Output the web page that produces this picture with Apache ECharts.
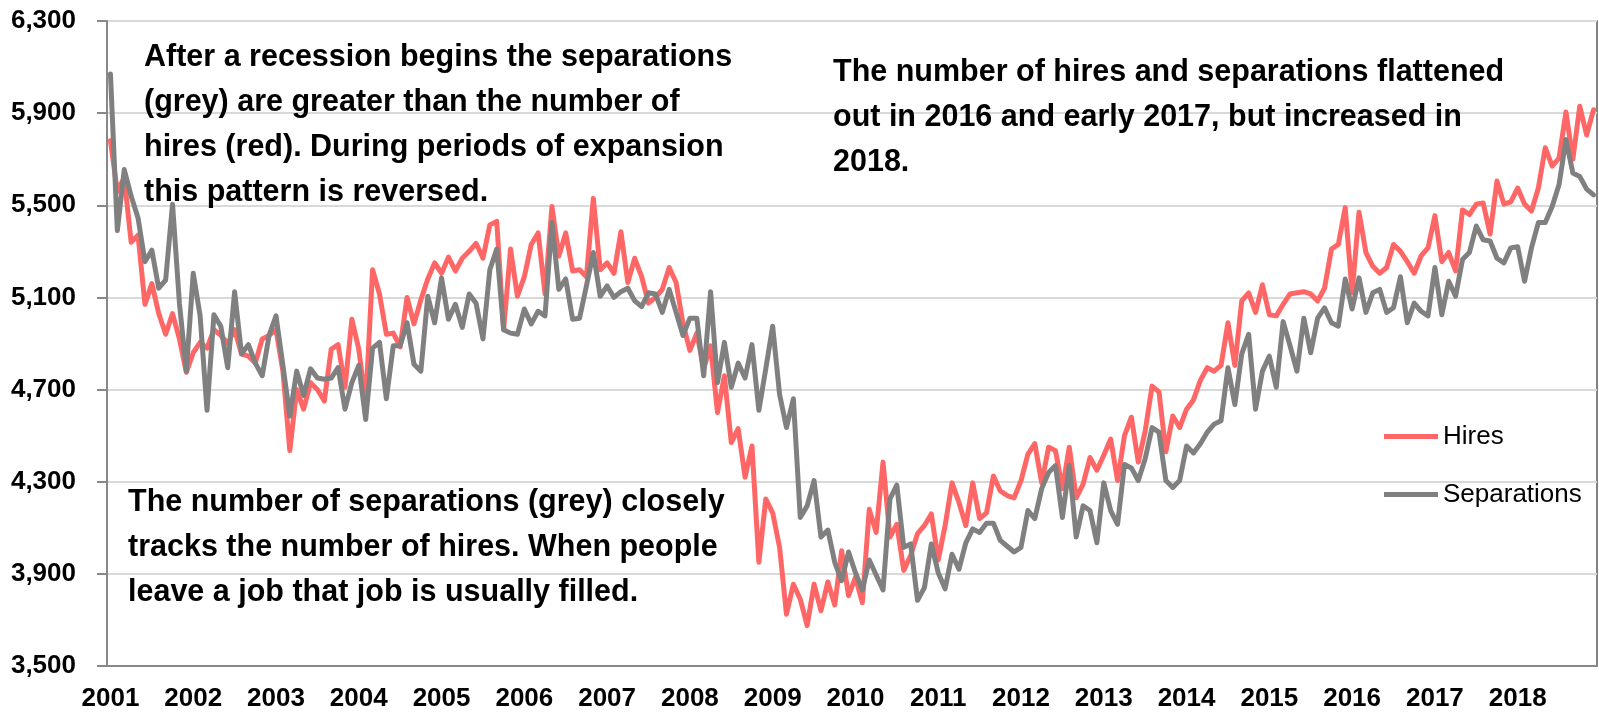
<!DOCTYPE html>
<html>
<head>
<meta charset="utf-8">
<title>Hires and Separations</title>
<script src="https://cdn.jsdelivr.net/npm/echarts@6.0.0/dist/echarts.min.js"></script>
<style>
    html, body { margin: 0; padding: 0; background: #fff; }
    #chart { width: 1599px; height: 712px; }
</style>
</head>
<body>
<div id="chart"></div>
<script>
'use strict';

// one row per year, Jan..Dec
var years = [2001, 2002, 2003, 2004, 2005, 2006, 2007, 2008, 2009,
             2010, 2011, 2012, 2013, 2014, 2015, 2016, 2017, 2018];

var hires = [
    5780, 5560, 5620, 5340, 5370, 5070, 5160, 5030, 4940, 5030, 4920, 4775,
    4860, 4905, 4880, 4960, 4935, 4900, 4960, 4855, 4845, 4815, 4920, 4935,
    4960, 4780, 4435, 4700, 4615, 4730, 4700, 4650, 4875, 4895, 4710, 5005,
    4875, 4640, 5220, 5115, 4940, 4945, 4885, 5100, 4985, 5090, 5180, 5250,
    5205, 5275, 5215, 5270, 5300, 5335, 5270, 5415, 5430, 4960, 5310, 5105,
    5190, 5330, 5380, 5115, 5495, 5280, 5380, 5215, 5220, 5190, 5530, 5220,
    5250, 5205, 5385, 5165, 5270, 5190, 5075, 5100, 5135, 5230, 5165, 4985,
    4870, 4945, 4790, 4890, 4600, 4760, 4470, 4530, 4320, 4455, 3950, 4225,
    4165, 4015, 3725, 3855, 3790, 3675, 3855, 3740, 3865, 3765, 4000, 3805,
    3885, 3775, 4180, 4080, 4385, 4060, 4115, 3915, 3980, 4075, 4110, 4160,
    3960, 4110, 4295, 4210, 4110, 4295, 4140, 4165, 4325, 4260, 4240, 4230,
    4305, 4420, 4465, 4295, 4450, 4435, 4270, 4450, 4230, 4290, 4405, 4350,
    4415, 4485, 4305, 4500, 4580, 4385, 4520, 4715, 4690, 4430, 4585, 4535,
    4615, 4655, 4740, 4795, 4780, 4805, 4990, 4805, 5085, 5120, 5035, 5155,
    5025, 5020, 5070, 5115, 5120, 5125, 5115, 5085, 5140, 5310, 5330, 5490,
    5120, 5470, 5295, 5235, 5205, 5230, 5330, 5300, 5255, 5205, 5280, 5315,
    5455, 5255, 5295, 5215, 5480, 5460, 5505, 5510, 5375, 5605, 5505, 5515,
    5575, 5505, 5475, 5575, 5750, 5670, 5705, 5905, 5700, 5930, 5805, 5915
];

var separations = [
    6070, 5390, 5655, 5540, 5445, 5255, 5305, 5140, 5175, 5505, 5075, 4780,
    5205, 5020, 4610, 5025, 4975, 4795, 5125, 4855, 4895, 4815, 4760, 4935,
    5020, 4805, 4585, 4780, 4675, 4790, 4750, 4745, 4750, 4795, 4615, 4730,
    4805, 4570, 4880, 4905, 4660, 4890, 4890, 4990, 4810, 4780, 5105, 4990,
    5185, 5005, 5070, 4970, 5115, 5075, 4920, 5220, 5310, 4960, 4945, 4940,
    5050, 4985, 5040, 5020, 5425, 5135, 5180, 5005, 5010, 5150, 5295, 5105,
    5150, 5100, 5125, 5140, 5085, 5060, 5120, 5115, 5035, 5135, 5035, 4935,
    5010, 5010, 4760, 5125, 4730, 4905, 4710, 4815, 4750, 4895, 4610, 4790,
    4975, 4680, 4535, 4660, 4145, 4195, 4305, 4060, 4090, 3950, 3870, 3995,
    3905, 3830, 3960, 3895, 3830, 4225, 4285, 4015, 4030, 3785, 3840, 4030,
    3905, 3835, 3985, 3920, 4035, 4095, 4080, 4120, 4120, 4045, 4020, 3995,
    4015, 4175, 4140, 4270, 4340, 4370, 4145, 4370, 4060, 4195, 4175, 4035,
    4295, 4175, 4115, 4375, 4360, 4305, 4400, 4535, 4515, 4305, 4275, 4305,
    4455, 4425, 4465, 4515, 4550, 4565, 4795, 4635, 4855, 4940, 4615, 4780,
    4845, 4710, 4995, 4890, 4780, 5010, 4860, 5010, 5055, 4990, 4975, 5180,
    5050, 5185, 5035, 5120, 5135, 5035, 5055, 5190, 4990, 5075, 5040, 5020,
    5230, 5025, 5170, 5105, 5265, 5295, 5410, 5350, 5345, 5270, 5250, 5315,
    5320, 5170, 5315, 5425, 5425, 5495, 5590, 5785, 5640, 5625, 5570, 5545
];

var notes = [
    'After a recession begins the separations\n(grey) are greater than the number of\nhires (red). During periods of expansion\nthis pattern is reversed.',
    'The number of separations (grey) closely\ntracks the number of hires. When people\nleave a job that job is usually filled.',
    'The number of hires and separations flattened\nout in 2016 and early 2017, but increased in\n2018.'
];

var FONT = '"Liberation Sans", Arial, Helvetica, sans-serif';

// month categories, e.g. "2001-01"
var months = [];
for (var i = 0; i < years.length; i++) {
    for (var m = 1; m <= 12; m++) {
        months.push(years[i] + '-' + (m < 10 ? '0' + m : m));
    }
}

function noteText(txt, x, y) {
    return {
        type: 'text',
        x: x,
        y: y,
        z: 10,
        style: {
            text: txt,
            fill: '#000',
            fontFamily: FONT,
            fontWeight: 'bold',
            fontSize: 30.5,
            lineHeight: 45,
            verticalAlign: 'top'
        }
    };
}

var my_chart = echarts.init(document.getElementById('chart'));

my_chart.setOption({
    animation: false,
    backgroundColor: '#fff',
    grid: {
        left: 107,
        right: 2,
        top: 21,
        bottom: 45,
        show: true,
        borderColor: '#595959',
        borderWidth: 1.5
    },
    legend: {
        orient: 'vertical',
        left: 1379,
        top: 418.5,
        itemWidth: 54,
        itemHeight: 5,
        itemGap: 32,
        icon: 'rect',
        data: ['Hires', 'Separations'],
        textStyle: {
            fontFamily: FONT,
            fontSize: 26,
            lineHeight: 26,
            color: '#000'
        }
    },
    xAxis: {
        type: 'category',
        data: months,
        boundaryGap: true,
        axisLine: { lineStyle: { color: '#888888', width: 2 } },
        axisTick: {
            interval: 11,
            length: 10,
            lineStyle: { color: '#888888', width: 2 }
        },
        axisLabel: {
            interval: 11,
            margin: 20,
            color: '#000',
            fontFamily: FONT,
            fontWeight: 'bold',
            fontSize: 26,
            formatter: function (v) {
                return v.substring(0, 4);
            }
        },
        splitLine: { show: false }
    },
    yAxis: {
        type: 'value',
        min: 3500,
        max: 6300,
        interval: 400,
        axisLine: { show: true, lineStyle: { color: '#888888', width: 2 } },
        axisTick: { show: true, length: 10, lineStyle: { color: '#888888', width: 2 } },
        axisLabel: {
            margin: 31,
            color: '#000',
            fontFamily: FONT,
            fontWeight: 'bold',
            fontSize: 26,
            formatter: function (v) {
                return v.toLocaleString('en-US');
            }
        },
        splitLine: { show: true, lineStyle: { color: '#d9d9d9', width: 2 } }
    },
    series: [
        {
            name: 'Hires',
            type: 'line',
            data: hires,
            symbol: 'none',
            color: '#ff6666',
            lineStyle: { color: '#ff6666', width: 5, cap: 'round', join: 'round' }
        },
        {
            name: 'Separations',
            type: 'line',
            data: separations,
            symbol: 'none',
            color: '#808080',
            lineStyle: { color: '#808080', width: 5, cap: 'round', join: 'round' }
        }
    ],
    graphic: [
        noteText(notes[0], 144, 35),
        noteText(notes[1], 128, 480),
        noteText(notes[2], 833, 50)
    ]
});
</script>
</body>
</html>
